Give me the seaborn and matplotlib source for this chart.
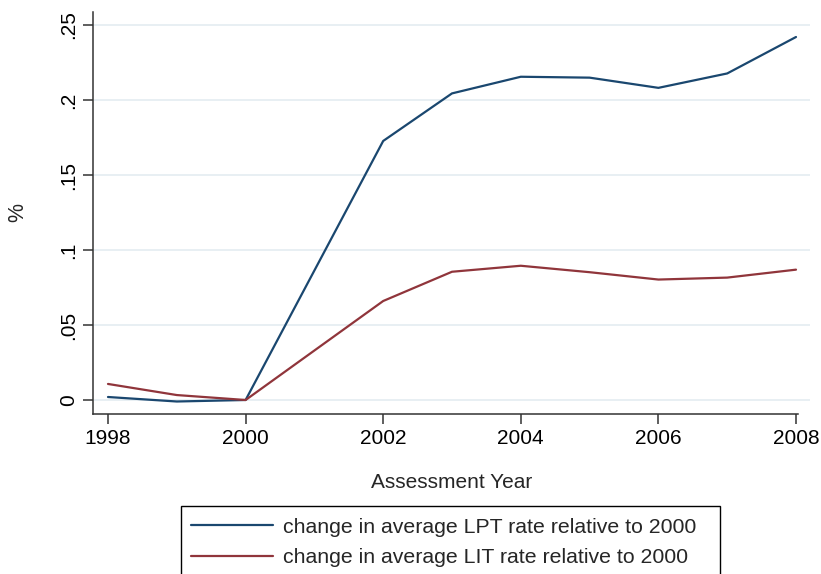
import matplotlib
matplotlib.use("Agg")
import matplotlib.pyplot as plt
from matplotlib.patches import Rectangle
import seaborn as sns
import pandas as pd

years = [1998, 1999, 2000, 2002, 2003, 2004, 2005, 2006, 2007, 2008]
lpt_change = [0.002, -0.001, 0.0, 0.1727, 0.2044, 0.2155, 0.2149, 0.2081, 0.2177, 0.2420]
lit_change = [0.0107, 0.0033, 0.0, 0.0660, 0.0855, 0.0895, 0.0852, 0.0803, 0.0816, 0.0869]
series_names = ["change in average LPT rate relative to 2000",
                "change in average LIT rate relative to 2000"]
x_ticks = [1998, 2000, 2002, 2004, 2006, 2008]
y_ticks = [0, 0.05, 0.10, 0.15, 0.20, 0.25]
y_ticklabels = ["0", ".05", ".1", ".15", ".2", ".25"]

df = pd.concat([
    pd.DataFrame({"year": years, "value": lpt_change, "series": series_names[0]}),
    pd.DataFrame({"year": years, "value": lit_change, "series": series_names[1]}),
])

sns.set_theme(style="white")
plt.rcParams["font.family"] = ["Liberation Sans", "DejaVu Sans"]

W, H = 821, 574
fig = plt.figure(figsize=(W / 100, H / 100), dpi=100)
ax = fig.add_axes([93 / W, 1 - 414 / H, (810 - 93) / W, (414 - 12) / H])

palette = {series_names[0]: "#1a476f", series_names[1]: "#90353b"}
sns.lineplot(data=df, x="year", y="value", hue="series", palette=palette,
             linewidth=1.6, ax=ax, legend=False)

for yv in y_ticks:
    ax.axhline(yv, color="#e6eef2", linewidth=1.3, zorder=0)

x_left = 1998 - 15 / 68.8
x_right = 2008 + 14 / 68.8
ax.set_xlim(x_left, x_right)
ax.set_ylim(-14 / 1500, 0.25 + 13 / 1500)

ax.set_xticks(x_ticks)
ax.set_xticklabels([str(t) for t in x_ticks], fontsize=15)
ax.set_yticks(y_ticks)
ax.set_yticklabels(y_ticklabels, fontsize=15, rotation=90, va="center")

ax.tick_params(axis="both", which="major", direction="out", length=7,
               width=1.1, color="#333333", labelcolor="black", pad=4,
               bottom=True, left=True)

for side in ["top", "right"]:
    ax.spines[side].set_visible(False)
for side in ["left", "bottom"]:
    ax.spines[side].set_color("#333333")
    ax.spines[side].set_linewidth(1.1)
ax.spines["bottom"].set_bounds(x_left, 2008.03)

ax.set_xlabel("Assessment Year", fontsize=15, labelpad=18)
ax.set_ylabel("%", fontsize=15.5, labelpad=22)

# legend box (runs past the lower edge of the figure)
fig.patches.append(Rectangle((181 / W, -0.05), (720 - 181) / W, 1 - 506 / H + 0.05,
                             transform=fig.transFigure, fill=False,
                             edgecolor="black", linewidth=1.0))

handles = [plt.Line2D([], [], color=palette[n], linewidth=1.6) for n in series_names]
leg = fig.legend(handles, series_names, loc="upper left",
                 bbox_to_anchor=(179 / W, 1 - 506 / H), fontsize=15.3,
                 frameon=False, handlelength=3.85, handletextpad=0.5,
                 labelspacing=0.54, borderpad=0.55, borderaxespad=0)

fig.savefig("out.png", dpi=100, facecolor="white")
